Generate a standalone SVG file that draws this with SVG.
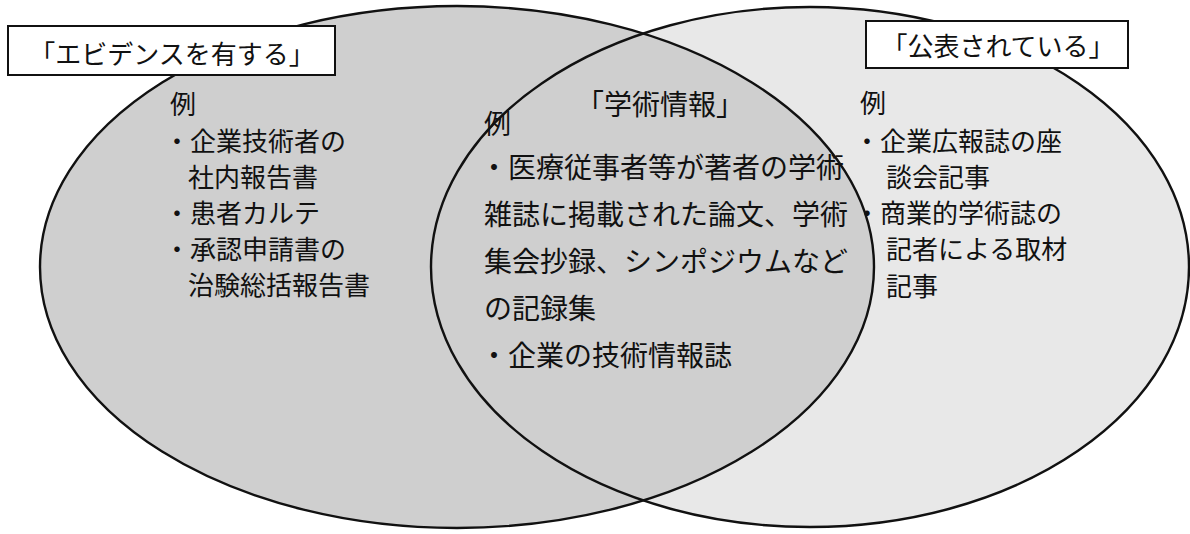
<svg xmlns="http://www.w3.org/2000/svg" width="1190" height="534" viewBox="0 0 1190 534">
  <style>
    .outline { fill: none; stroke: #111; stroke-width: 2.4; }
    .box { fill: #fff; stroke: #111; stroke-width: 2; }
    .t { font-family: "Noto Sans CJK JP", "Noto Sans CJK SC", sans-serif; fill: #111; }
    .side { font-size: 26px; }
    .mid { font-size: 28px; }
    .head { font-size: 26px; }
  </style>
  <rect x="0" y="0" width="1190" height="534" fill="#fff"/>
  <g id="set-public-area">
    <ellipse cx="810" cy="267" rx="379" ry="260" fill="#e8e8e8"/>
  </g>
  <g id="set-evidence-area">
    <ellipse cx="457" cy="267" rx="417" ry="261" fill="#cfcfcf"/>
  </g>
  <g id="outlines">
    <ellipse class="outline" cx="810" cy="267" rx="379" ry="260"/>
    <ellipse class="outline" cx="457" cy="267" rx="417" ry="261"/>
  </g>
  <g id="label-evidence">
    <rect class="box" x="8" y="26" width="327" height="49"/>
    <text class="t head" x="172" y="64" text-anchor="middle">「エビデンスを有する」</text>
  </g>
  <g id="label-public">
    <rect class="box" x="866" y="21" width="262" height="47"/>
    <text class="t head" x="998" y="56" text-anchor="middle">「公表されている」</text>
  </g>
  <g id="examples-evidence" class="t side">
    <text x="170" y="114">例</text>
    <text x="164" y="151">・企業技術者の</text>
    <text x="188" y="187">社内報告書</text>
    <text x="164" y="223">・患者カルテ</text>
    <text x="164" y="259">・承認申請書の</text>
    <text x="188" y="295">治験総括報告書</text>
  </g>
  <g id="examples-academic" class="t mid">
    <text x="660" y="115" text-anchor="middle">「学術情報」</text>
    <text x="484" y="134" style="font-size:27px">例</text>
    <text x="480" y="178">・医療従事者等が著者の学術</text>
    <text x="484" y="225">雑誌に掲載された論文、学術</text>
    <text x="484" y="272">集会抄録、シンポジウムなど</text>
    <text x="484" y="319">の記録集</text>
    <text x="480" y="366">・企業の技術情報誌</text>
  </g>
  <g id="examples-public" class="t side">
    <text x="860" y="113">例</text>
    <text x="854" y="151">・企業広報誌の座</text>
    <text x="886" y="187">談会記事</text>
    <text x="854" y="223">・商業的学術誌の</text>
    <text x="886" y="259">記者による取材</text>
    <text x="886" y="296">記事</text>
  </g>
</svg>
